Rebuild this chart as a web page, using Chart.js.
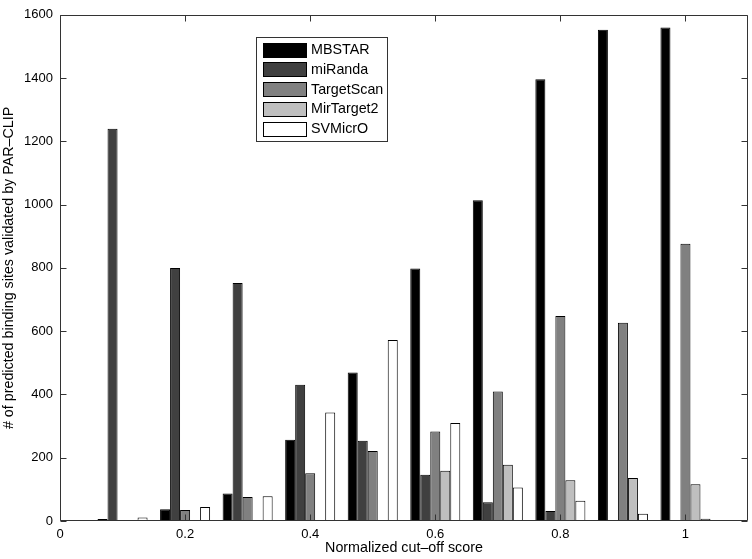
<!DOCTYPE html>
<html><head><meta charset="utf-8">
<script src="https://cdn.jsdelivr.net/npm/chart.js@4.4.0/dist/chart.umd.min.js"></script>
<style>html,body{margin:0;padding:0;background:#fff}canvas{display:block}</style>
</head><body>
<canvas id="c" width="752" height="559"></canvas>
<script>
// ---- data ----
const cutoffs = [0.1, 0.2, 0.3, 0.4, 0.5, 0.6, 0.7, 0.8, 0.9, 1.0];
const seriesNames = ['MBSTAR', 'miRanda', 'TargetScan', 'MirTarget2', 'SVMicrO'];
const mbstar     = [6, 37, 87, 257, 469, 798, 1014, 1396, 1553, 1560];
const miranda    = [1240, 800, 752, 431, 254, 146, 59, 32, 3, 0];
const targetscan = [3, 35, 76, 151, 221, 283, 409, 648, 627, 876];
const mirtarget2 = [0, 0, 0, 0, 0, 159, 178, 129, 136, 116];
const svmicro    = [11, 44, 78, 343, 572, 310, 106, 64, 23, 7];
const xTickValues = [0, 0.2, 0.4, 0.6, 0.8, 1];
const yTickValues = [0, 200, 400, 600, 800, 1000, 1200, 1400, 1600];
const xTitle = 'Normalized cut\u2013off score';
const yTitle = '# of predicted binding sites validated by PAR\u2013CLIP';

const seriesValues = [mbstar, miranda, targetscan, mirtarget2, svmicro];
const fills = ['#000000', '#404040', '#808080', '#bfbfbf', '#ffffff'];
const FONT = "'Liberation Sans', Arial, Helvetica, sans-serif";

Chart.defaults.color = '#000';
Chart.defaults.font.family = FONT;
Chart.defaults.font.size = 13;

const datasets = seriesNames.map((name, i) => ({
  label: name,
  data: cutoffs.map((x, j) => ({ x: x, y: seriesValues[i][j] })),
  backgroundColor: fills[i],
  borderColor: '#000',
  borderWidth: 1,
  borderSkipped: false,
  categoryPercentage: 0.8,
  barPercentage: 1.0
}));

const frameAndTicks = {
  id: 'frameAndTicks',
  afterDatasetsDraw(chart) {
    const { ctx, chartArea: a, scales } = chart;
    const L = Math.round(a.left) + 0.5, R = Math.round(a.right) - 0.5;
    const T = Math.round(a.top) + 0.5, B = Math.round(a.bottom) - 0.5;
    const tl = 6;
    ctx.save();
    ctx.strokeStyle = '#333';
    ctx.lineWidth = 1;
    ctx.beginPath();
    ctx.rect(L, T, R - L, B - T);
    scales.x.ticks.forEach(t => {
      const px = Math.round(scales.x.getPixelForValue(t.value)) + 0.5;
      ctx.moveTo(px, B); ctx.lineTo(px, B - tl);
      ctx.moveTo(px, T); ctx.lineTo(px, T + tl);
    });
    scales.y.ticks.forEach(t => {
      const py = Math.round(scales.y.getPixelForValue(t.value)) + 0.5;
      ctx.moveTo(L, py); ctx.lineTo(L + tl, py);
      ctx.moveTo(R, py); ctx.lineTo(R - tl, py);
    });
    ctx.stroke();
    ctx.restore();
  }
};

const boxLegend = {
  id: 'boxLegend',
  afterDraw(chart) {
    const { ctx } = chart;
    const bx = 256.5, by = 37.5, bw = 131, bh = 104;
    ctx.save();
    ctx.fillStyle = '#fff';
    ctx.fillRect(bx, by, bw, bh);
    ctx.strokeStyle = '#333';
    ctx.lineWidth = 1;
    ctx.strokeRect(bx, by, bw, bh);
    ctx.font = '14.3px ' + FONT;
    ctx.textBaseline = 'middle';
    ctx.textAlign = 'left';
    chart.data.datasets.forEach((ds, i) => {
      const cy = 49.5 + i * 19.8;
      const sy = Math.round(cy - 7) + 0.5;
      ctx.fillStyle = ds.backgroundColor;
      ctx.fillRect(263.5, sy, 43, 14);
      ctx.strokeStyle = '#000';
      ctx.strokeRect(263.5, sy, 43, 14);
      ctx.fillStyle = '#000';
      ctx.fillText(ds.label, 311, cy + 0.5);
    });
    ctx.restore();
  }
};

new Chart(document.getElementById('c'), {
  type: 'bar',
  data: { datasets: datasets },
  options: {
    responsive: false,
    devicePixelRatio: 1,
    animation: false,
    layout: { padding: { top: 8, right: 4, bottom: 0, left: 0 } },
    plugins: { legend: { display: false }, tooltip: { enabled: false } },
    scales: {
      x: {
        type: 'linear',
        min: 0, max: 1.1,
        offset: false,
        grid: { display: false, drawTicks: false },
        border: { display: false },
        afterBuildTicks: s => { s.ticks = xTickValues.map(v => ({ value: v })); },
        afterFit: s => { s.height = 38; },
        ticks: {
          padding: 6,
          maxRotation: 0,
          autoSkip: false,
          callback: v => String(Number(Number(v).toFixed(1)))
        },
        title: { display: true, text: xTitle, padding: { top: 0, bottom: 2 }, font: { size: 14.3 } }
      },
      y: {
        min: 0, max: 1600,
        grid: { display: false, drawTicks: false },
        border: { display: false },
        afterBuildTicks: s => { s.ticks = yTickValues.map(v => ({ value: v })); },
        afterFit: s => { s.width = 60; },
        ticks: { padding: 7, autoSkip: false, callback: v => String(v) },
        title: { display: true, text: yTitle, padding: { top: 0, bottom: 0 }, font: { size: 14.3 } }
      }
    }
  },
  plugins: [frameAndTicks, boxLegend]
});
</script>
</body></html>
